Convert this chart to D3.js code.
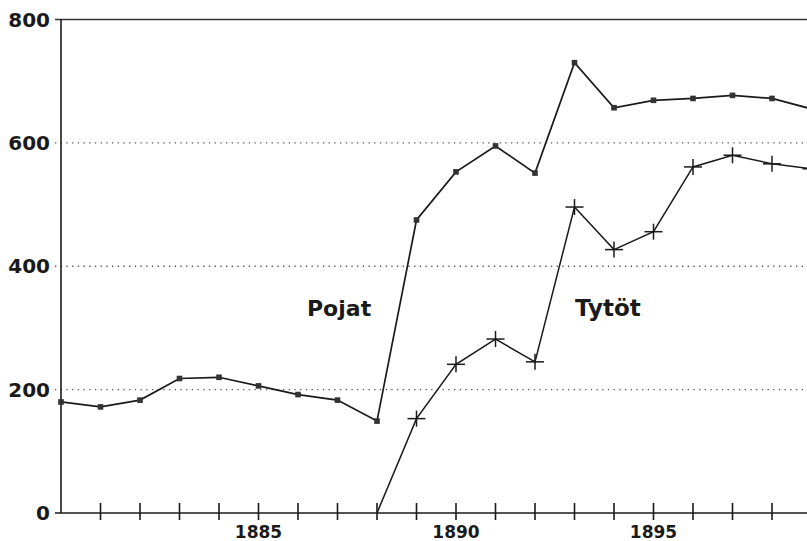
<!DOCTYPE html>
<html>
<head>
<meta charset="utf-8">
<script src="https://cdn.jsdelivr.net/npm/d3@7"></script>
<style>
  body { margin: 0; background: #fff; }
  svg text { font-family: "DejaVu Sans", "Liberation Sans", sans-serif; fill: #1a1a1a; }
</style>
</head>
<body>
<svg id="chart" width="807" height="541"></svg>
<script>
// years along the x axis
const years = d3.range(1880, 1900);
// Pojat (boys), square markers
const pojat = [180, 172, 183, 218, 220, 206, 192, 183, 149, 475,
               553, 595, 551, 730, 657, 669, 672, 677, 672, 655];
// Tytöt (girls), cross markers, start in 1888
const tytotYears = d3.range(1888, 1900);
const tytot = [0, 153, 241, 282, 245, 496, 427, 456, 561, 580, 566, 558];
const yTicks = [0, 200, 400, 600, 800];
const xLabels = [1885, 1890, 1895];

const svg = d3.select('#chart');
const ink = '#1a1a1a';

const x = d3.scaleLinear().domain([1880, 1899]).range([61, 811.5]);
const y = d3.scaleLinear().domain([0, 800]).range([513, 19.5]);

// gridlines (dotted), top one solid
svg.append('g')
  .selectAll('line')
  .data(yTicks.filter(d => d > 0))
  .enter()
  .append('line')
  .attr('x1', x(1880) - 6)
  .attr('x2', 807)
  .attr('y1', d => y(d))
  .attr('y2', d => y(d))
  .attr('stroke', d => d === 800 ? '#333' : '#555')
  .attr('stroke-width', d => d === 800 ? 1.6 : 1.3)
  .attr('stroke-dasharray', d => d === 800 ? null : '1.3,4.4');

// y axis line
svg.append('line')
  .attr('x1', x(1880)).attr('x2', x(1880))
  .attr('y1', y(800)).attr('y2', y(0))
  .attr('stroke', ink).attr('stroke-width', 1.6);

// x axis line
svg.append('line')
  .attr('x1', x(1880) - 6).attr('x2', 807)
  .attr('y1', y(0)).attr('y2', y(0))
  .attr('stroke', ink).attr('stroke-width', 1.6);

// x ticks crossing the axis
svg.append('g')
  .selectAll('line')
  .data(years.slice(1))
  .enter()
  .append('line')
  .attr('x1', d => x(d)).attr('x2', d => x(d))
  .attr('y1', y(0) - 10).attr('y2', y(0) + 7)
  .attr('stroke', ink).attr('stroke-width', 1.6);

// y labels
svg.append('g')
  .selectAll('text')
  .data(yTicks)
  .enter()
  .append('text')
  .attr('x', 50)
  .attr('y', d => y(d) + 7)
  .attr('text-anchor', 'end')
  .style('font-size', '20px')
  .style('font-weight', 'bold')
  .text(d => d);

// x labels
svg.append('g')
  .selectAll('text')
  .data(xLabels)
  .enter()
  .append('text')
  .attr('x', d => x(d))
  .attr('y', 538)
  .attr('text-anchor', 'middle')
  .style('font-size', '17px')
  .style('font-weight', 'bold')
  .text(d => d);

const line = d3.line().x(d => x(d[0])).y(d => y(d[1]));
const pojatPts = years.map((yr, i) => [yr, pojat[i]]);
const tytotPts = tytotYears.map((yr, i) => [yr, tytot[i]]);

svg.append('path')
  .datum(pojatPts)
  .attr('d', line)
  .attr('fill', 'none')
  .attr('stroke', ink)
  .attr('stroke-width', 1.7);

svg.append('path')
  .datum(tytotPts)
  .attr('d', line)
  .attr('fill', 'none')
  .attr('stroke', ink)
  .attr('stroke-width', 1.5);

// square markers
svg.append('g')
  .selectAll('rect')
  .data(pojatPts)
  .enter()
  .append('rect')
  .attr('x', d => x(d[0]) - 2.8)
  .attr('y', d => y(d[1]) - 2.8)
  .attr('width', 5.6)
  .attr('height', 5.6)
  .attr('fill', '#333');

// cross markers (skip the 0 start point)
const crosses = svg.append('g')
  .selectAll('g')
  .data(tytotPts.slice(1))
  .enter()
  .append('g')
  .attr('transform', d => `translate(${x(d[0])},${y(d[1])})`);
crosses.append('line')
  .attr('x1', -9).attr('x2', 9).attr('y1', 0).attr('y2', 0)
  .attr('stroke', ink).attr('stroke-width', 1.5);
crosses.append('line')
  .attr('x1', 0).attr('x2', 0).attr('y1', -8).attr('y2', 8)
  .attr('stroke', ink).attr('stroke-width', 1.5);

// series labels
svg.append('text')
  .attr('x', 307).attr('y', 316)
  .style('font-size', '22px')
  .style('font-weight', 'bold')
  .text('Pojat');
svg.append('text')
  .attr('x', 575).attr('y', 316)
  .style('font-size', '23px')
  .style('font-weight', 'bold')
  .text('Tytöt');
</script>
</body>
</html>
